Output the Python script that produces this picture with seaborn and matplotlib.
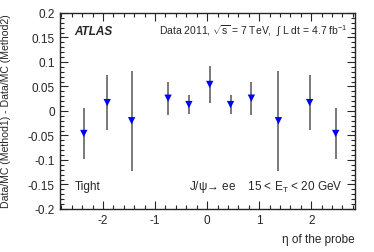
import pandas as pd
import matplotlib
matplotlib.use("Agg")
import matplotlib.pyplot as plt
from matplotlib.ticker import MultipleLocator, AutoMinorLocator
import seaborn as sns

# values
eta = [-2.37, -1.92, -1.45, -0.75, -0.35, 0.05, 0.45, 0.85, 1.37, 1.97, 2.47]
diff = [-0.046, 0.017, -0.020, 0.026, 0.013, 0.054, 0.013, 0.026, -0.020, 0.017, -0.046]
err = [0.052, 0.056, 0.102, 0.034, 0.019, 0.038, 0.019, 0.034, 0.102, 0.056, 0.052]

df = pd.DataFrame({"eta": eta, "diff": diff, "err": err})

sns.set_style("ticks")
plt.rcParams["font.family"] = ["Liberation Sans", "DejaVu Sans"]
plt.rcParams["axes.unicode_minus"] = False
plt.rcParams["mathtext.fontset"] = "custom"
plt.rcParams["mathtext.rm"] = "Liberation Sans"
plt.rcParams["mathtext.it"] = "Liberation Sans:italic"

fig = plt.figure(figsize=(3.74, 2.53), dpi=100)
ax = fig.add_axes([0.160, 0.170, 0.789, 0.775])

ax.errorbar(df["eta"], df["diff"], yerr=df["err"], fmt="none", ecolor="#555555",
            elinewidth=1.1, capsize=0, zorder=1)
sns.scatterplot(data=df, x="eta", y="diff", marker="v", color="#0000ff", s=28,
                edgecolor="none", ax=ax, zorder=2)

ax.set_xlim(-2.83, 2.84)
ax.set_ylim(-0.2, 0.2)
ax.xaxis.set_major_locator(MultipleLocator(1))
ax.xaxis.set_minor_locator(AutoMinorLocator(5))
ax.yaxis.set_major_locator(MultipleLocator(0.05))
ax.yaxis.set_minor_locator(AutoMinorLocator(5))
ax.yaxis.set_major_formatter(plt.FuncFormatter(lambda v, p: "0" if abs(v) < 1e-9 else f"{v:g}"))
ax.tick_params(which="both", direction="in", top=True, right=True, labelsize=8.5, width=0.8)
ax.tick_params(which="major", length=6)
ax.tick_params(which="minor", length=3)
for s in ax.spines.values():
    s.set_linewidth(1.0)

ax.set_xlabel("η of the probe", fontsize=8.5, loc="right")
ax.set_ylabel("Data/MC (Method1) - Data/MC (Method2)", fontsize=7.6, loc="top")
ax.xaxis.set_label_coords(1.0, -0.125)
ax.yaxis.set_label_coords(-0.165, 1.0)

ax.text(0.05, 0.91, "ATLAS", transform=ax.transAxes, fontsize=8.5, fontweight="bold",
        fontstyle="italic", va="center")
ax.text(0.975, 0.91, r"Data 2011, $\sqrt{\rm s}$ = 7 TeV,  $\int$ L dt = 4.7 fb$^{-1}$",
        transform=ax.transAxes, fontsize=7.5, ha="right", va="center")
ax.text(0.05, 0.115, "Tight", transform=ax.transAxes, fontsize=8.5, va="center")
ax.text(0.96, 0.115, r"J/ψ→ ee    15 < E$_{\rm T}$ < 20 GeV",
        transform=ax.transAxes, fontsize=8.5, ha="right", va="center")

fig.savefig("out.png", dpi=100)
